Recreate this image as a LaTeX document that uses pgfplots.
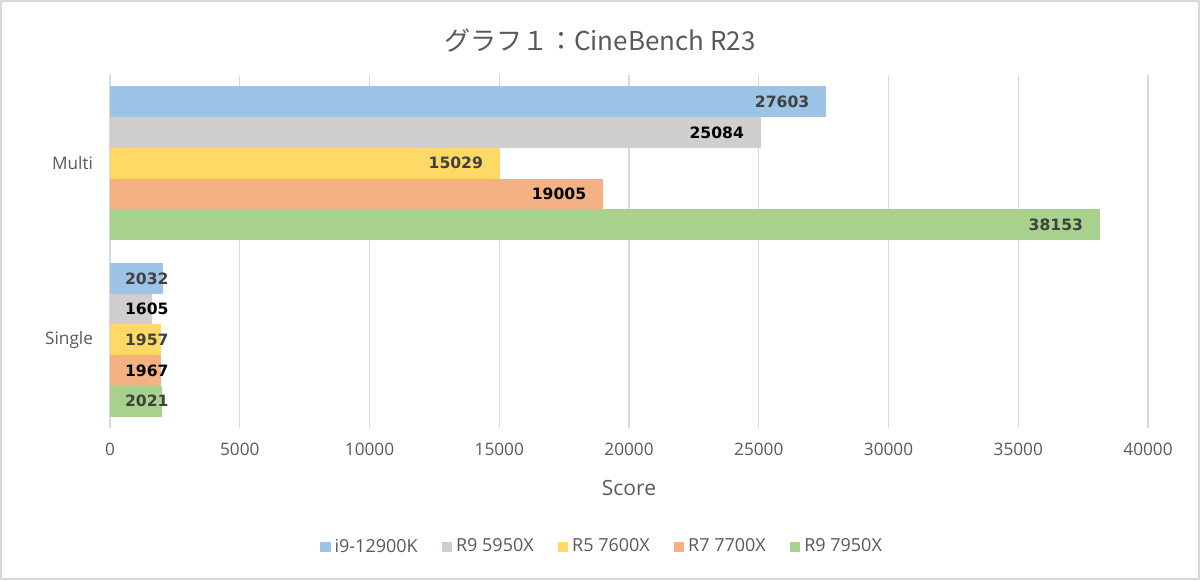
\documentclass[border=0pt]{standalone}
\usepackage{fontspec}
\usepackage{pgfplots}
\pgfplotsset{compat=1.18}
\newfontfamily\labfont{Open Sans}
\newfontfamily\valfont{DejaVu Sans}
\newfontfamily\cjk{Noto Sans CJK JP}
\definecolor{cBlue}{HTML}{9DC3E6}
\definecolor{cGray}{HTML}{D0CECE}
\definecolor{cYellow}{HTML}{FFD966}
\definecolor{cOrange}{HTML}{F4B183}
\definecolor{cGreen}{HTML}{A9D18E}
\definecolor{txt}{HTML}{595959}
\definecolor{gridc}{HTML}{D9D9D9}
\definecolor{lab}{HTML}{404040}

% 1 px of the reference = 0.5pt; 40000 units = 519pt
\pgfplotsset{
  multilab/.style={nodes near coords,
    every node near coord/.append style={font=\valfont\bfseries\fontsize{7.8}{8}\selectfont,
      text=#1, anchor=east, xshift=-5pt}},
  singlelab/.style={nodes near coords,
    visualization depends on={rawx \as \rx},
    every node near coord/.append style={font=\valfont\bfseries\fontsize{7.8}{8}\selectfont,
      text=#1, anchor=west, xshift={4pt-0.012975pt*\rx}}},
}

\begin{document}
\begin{tikzpicture}
\useasboundingbox (0,0) rectangle (600pt,290pt);
\draw[gridc, line width=1pt] (0.5pt,0.5pt) rectangle (599.5pt,289.5pt);
\node[text=txt, font=\cjk\fontsize{13}{15}\selectfont] at (300pt,270pt) {グラフ１：CineBench R23};

\begin{axis}[
    at={(55pt,76pt)}, anchor=south west,
    scale only axis, width=519pt, height=176.5pt,
    xbar, bar width=0.174,
    xmin=0, xmax=40000, xtick distance=5000,
    scaled x ticks=false,
    ymin=-0.5, ymax=1.5,
    ytick={0,1}, yticklabels={Single,Multi},
    axis line style={draw=none},
    major tick length=0,
    xmajorgrids=true, ymajorgrids=false,
    major grid style={draw=gridc, line width=0.6pt},
    tick label style={font=\labfont\fontsize{8.6}{10}\selectfont, text=txt},
    xticklabel style={yshift=-4pt},
    yticklabel style={xshift=-5pt},
    /pgf/number format/.cd, 1000 sep={}, fixed, precision=0, assume math mode=true, /pgfplots/.cd,
    xlabel={Score},
    xlabel style={font=\labfont\fontsize{10.5}{12}\selectfont, text=txt,
      at={(axis description cs:0.5,0)}, anchor=center, yshift=-30pt},
    legend columns=5,
    legend style={draw=none, at={(0.475,-0.337)}, anchor=center,
      font=\labfont\fontsize{9}{10}\selectfont, text=txt,
      /tikz/every even column/.append style={column sep=10pt}},
    legend image code/.code={\fill[#1,draw=none] (0pt,-2.6pt) rectangle (5.2pt,2.6pt);},
    clip=false,
]
% Multi
\addplot[fill=cBlue, draw=none, bar shift=0.348, multilab=lab] coordinates {(27603,1)};
\addplot[fill=cGray, draw=none, bar shift=0.174, multilab=black] coordinates {(25084,1)};
\addplot[fill=cYellow, draw=none, bar shift=0, multilab=lab] coordinates {(15029,1)};
\addplot[fill=cOrange, draw=none, bar shift=-0.174, multilab=black] coordinates {(19005,1)};
\addplot[fill=cGreen, draw=none, bar shift=-0.348, multilab=lab] coordinates {(38153,1)};
\legend{i9-12900K, R9 5950X, R5 7600X, R7 7700X, R9 7950X}
% Single
\addplot[forget plot, fill=cBlue, draw=none, bar shift=0.348, singlelab=lab] coordinates {(2032,0)};
\addplot[forget plot, fill=cGray, draw=none, bar shift=0.174, singlelab=black] coordinates {(1605,0)};
\addplot[forget plot, fill=cYellow, draw=none, bar shift=0, singlelab=lab] coordinates {(1957,0)};
\addplot[forget plot, fill=cOrange, draw=none, bar shift=-0.174, singlelab=black] coordinates {(1967,0)};
\addplot[forget plot, fill=cGreen, draw=none, bar shift=-0.348, singlelab=lab] coordinates {(2021,0)};
\end{axis}
\end{tikzpicture}
\end{document}
